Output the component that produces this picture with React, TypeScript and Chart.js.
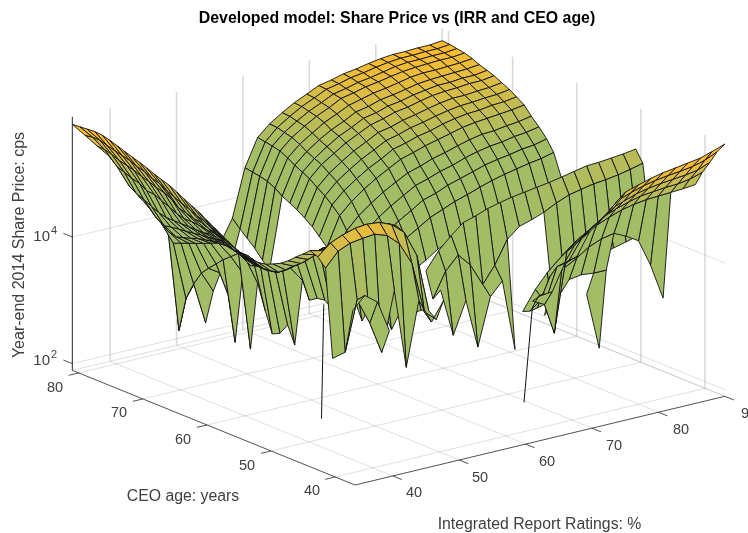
import React, { useEffect, useRef } from "react";
import { Chart, registerables } from "chart.js";

Chart.register(...registerables);

const N = null;
const gap = (n: number) => Array(n).fill(null);

const irrValues = [34.3,36.2,38,39.9,41.7,43.6,45.4,47.3,49.2,51,52.9,54.7,56.6,58.4,60.3,62.2,64,65.9,67.7,69.6,71.4,73.3,75.1,77,78.9,80.7,82.6,84.4,86.3,88.1,90];
const ageValues = [81,79.8,78.7,77.5,76.3,75.2,74,72.9,71.7,70.5,69.4,68.2,67.1,65.9,64.7,63.6,62.4,61.3,60.1,58.9,57.8,56.6,55.5,54.3,53.1,52,50.8,49.7,48.5,47.3,46.2,45,43.9,42.7,41.5,40.4,39.2,38.1,36.9];

// log10(share price) x 100, one row per CEO age (oldest first), one column per IRR value
const logPriceRows: (number | null)[][] = [
[578,556,535,513,491,469,430,414,352,348,344,339,334,369,444,487,504,517,528,537,546,550,555,558,562,565,567,567,568,568,570],
[579,558,534,502,467,448,425,407,220,300,300,295,290,357,442,485,503,516,527,536,545,549,554,557,561,564,566,566,567,567,569],
[580,558,531,498,460,433,405,367,275,304,N,N,N,347,440,483,500,513,524,533,542,546,551,554,558,562,564,564,565,565,567],
[581,554,526,493,455,421,395,372,303,237,N,N,N,336,437,480,497,510,521,530,540,544,549,552,556,559,561,562,563,563,565],
[580,551,523,490,449,414,392,377,325,292,N,N,N,322,431,474,491,504,516,525,534,539,544,547,551,555,557,557,558,559,561],
[577,548,520,483,444,416,395,381,337,325,N,N,N,311,423,467,484,498,509,518,528,532,538,541,545,549,551,552,553,554,556],
[573,545,515,482,441,418,399,386,349,296,N,N,N,N,417,461,478,492,504,513,523,527,533,536,541,544,547,547,549,549,552],
[569,540,512,477,441,419,403,391,360,225,N,N,N,N,411,455,473,486,498,508,517,522,528,531,536,540,542,543,545,545,548],
[565,537,507,472,441,421,406,396,370,339,N,N,N,N,403,446,464,478,490,500,510,514,520,524,529,533,536,536,538,539,542],
[561,531,504,466,441,423,409,397,380,224,N,N,N,N,394,438,456,470,482,492,502,507,513,517,522,526,529,530,532,533,536],
[557,528,499,463,441,424,412,397,376,333,N,N,N,N,383,428,446,460,472,482,493,498,504,508,514,518,521,522,525,526,529],
[552,521,489,463,441,426,415,394,379,294,N,N,N,N,371,416,434,449,461,472,482,488,494,499,504,509,512,514,516,518,521],
[548,516,486,462,443,427,408,395,375,262,N,N,N,N,352,397,416,431,444,455,465,471,478,483,489,494,498,499,502,504,508],
[544,511,482,460,441,426,402,391,372,268,N,N,N,N,334,380,399,414,427,439,450,456,463,468,475,480,484,486,490,492,496],
[538,506,481,459,440,418,394,388,374,286,N,N,N,N,314,359,379,395,408,420,432,438,446,452,458,464,468,471,475,477,482],
[532,501,476,456,433,413,399,387,380,259,N,N,N,N,300,335,355,371,385,397,409,417,425,431,438,444,449,453,457,460,465],
[526,497,473,454,429,410,397,388,390,366,N,N,N,N,300,310,320,330,340,351,364,372,381,389,397,404,410,414,420,424,430],
[521,492,470,446,427,412,400,398,400,339,...gap(21)],
[513,486,465,441,424,413,404,407,410,347,...gap(21)],
[506,481,457,438,424,416,415,420,423,349,...gap(21)],
[498,470,454,438,427,421,426,429,434,340,...gap(21)],
[491,470,453,440,432,431,434,442,442,360,...gap(21)],
[484,467,453,443,439,442,445,452,452,335,...gap(21)],
[480,464,456,448,448,451,457,463,464,370,...gap(21)],
[479,460,461,456,457,462,469,475,472,340,...gap(21)],
[479,461,465,465,469,473,478,486,483,365,...gap(21)],
[481,464,472,475,480,485,488,497,493,335,N,N,N,410,437,456,472,478,485,490,494,497,500,503,507,511,515,516,518,520,523],
[486,472,483,485,492,494,497,507,500,370,N,N,N,370,409,430,410,374,400,436,452,458,465,475,483,487,491,493,496,500,505],
[492,483,492,497,500,503,507,517,509,345,N,N,N,389,313,363,285,360,380,267,N,N,350,360,370,380,385,390,395,400,405],
[501,492,502,507,510,513,516,524,515,375,...gap(21)],
[511,503,513,516,519,524,526,530,520,350,...gap(21)],
[521,515,522,529,530,535,537,536,520,385,...gap(13),350,260,...gap(6)],
[531,526,534,540,540,545,545,537,502,395,...gap(9),340,360,387,390,388,388,...gap(6)],
[526,543,551,557,559,557,549,532,491,399,...gap(8),370,395,415,426,439,447,451,442,430,387,330,N,N],
[513,535,543,546,548,541,524,488,406,390,...gap(6),370,400,422,440,456,468,478,486,493,497,500,501,502,503,505],
[375,380,458,417,366,459,333,434,395,424,370,...gap(5),375,390,331,455,471,483,496,504,510,515,517,519,520,523,529],
[N,451,470,455,405,...gap(11),385,430,440,470,486,498,514,521,528,532,535,537,539,542,550],
[...gap(15),405,395,450,455,485,500,514,532,539,545,549,552,554,557,562,571],
[...gap(15),418,420,460,466,500,515,529,550,556,562,566,569,572,575,581,588],
];

// Very thin hanging edges: [IRR, CEO age, log10 price x 100]
const thinEdgeA = [[35,42.5,450],[35,42.85,268]];
const thinEdgeB = [[62.9,36.9,421],[61.9,36.9,418],[61,36.9,402],[59.75,36.9,256]];

const irrTicks = [40,50,60,70,80,90];
const ageTicks = [40,50,60,70,80];
const zTicks = [200,400];
const irrMin = 34.3, irrMax = 90, ageMin = 36.9, ageMax = 81, zFloor = 189.4, zTop = 590;

const project = (irr: number, age: number, z: number) => ({
  x: 355 + 6.64 * (irr - irrMin) - 6.41 * (age - ageMin),
  y: 485 - 1.592 * (irr - irrMin) - 2.6 * (age - ageMin) - (z - zFloor) * 0.633,
});

const faceColor = (z: number) => {
  const t = Math.pow(Math.min(1, Math.max(0, (z - 470) / 100)), 1.6);
  const mix = (a: number, b: number) => Math.round(a + (b - a) * t);
  return `rgb(${mix(163, 255)},${mix(188, 188)},${mix(102, 45)})`;
};

const line = (pts: { x: number; y: number }[], color: string, width: number) => ({
  type: "scatter" as const,
  data: pts,
  showLine: true,
  borderColor: color,
  borderWidth: width,
  pointRadius: 0,
  fill: false,
  clip: false as const,
  tension: 0,
});

function buildDatasets() {
  const out: any[] = [];
  // chart.js paints the first dataset last, so nearest items come first
  out.push(line(thinEdgeA.map((p) => project(p[0], p[1], p[2])), "#111", 1));
  out.push(line(thinEdgeB.map((p) => project(p[0], p[1], p[2])), "#111", 1));
  const axisColor = "#262626";
  out.push(line([project(irrMin, ageMax, zFloor), project(irrMin, ageMax, zTop)], axisColor, 1));
  out.push(line([project(irrMin, ageMax, zFloor), project(irrMin, ageMin, zFloor), project(irrMax, ageMin, zFloor)], axisColor, 0.8));
  for (const a of ageTicks) out.push(line([project(irrMin, a, zFloor), project(irrMin - 1.5, a, zFloor)], axisColor, 0.8));
  for (const r of irrTicks) out.push(line([project(r, ageMin, zFloor), project(r, ageMin - 1.4, zFloor)], axisColor, 0.8));
  for (const z of zTicks) out.push(line([project(irrMin, ageMax, z), project(irrMin, ageMax + 1.4, z)], axisColor, 0.8));

  for (let r = logPriceRows.length - 2; r >= 0; r--) {
    for (let c = 0; c < irrValues.length - 1; c++) {
      const a = logPriceRows[r + 1][c], b = logPriceRows[r + 1][c + 1], d = logPriceRows[r][c + 1], e = logPriceRows[r][c];
      if (a == null || b == null || d == null || e == null) continue;
      const near = ageValues[r + 1], far = ageValues[r];
      const p1 = project(irrValues[c], near, a);
      out.push({
        ...line([p1, project(irrValues[c + 1], near, b), project(irrValues[c + 1], far, d), project(irrValues[c], far, e), p1], "#101010", 0.9),
        fill: "shape",
        backgroundColor: faceColor((a + b + d + e) / 4),
      });
    }
  }
  // walls and floor grid
  const grid = "rgba(150,150,150,0.3)";
  const wall = "rgba(170,170,170,0.42)";
  for (const r of irrTicks) {
    out.push(line([project(r, ageMin, zFloor), project(r, ageMax, zFloor)], grid, 1));
    if (r < irrMax) out.push(line([project(r, ageMax, zFloor), project(r, ageMax, zTop)], wall, 1.6));
  }
  for (const a of ageTicks) {
    out.push(line([project(irrMin, a, zFloor), project(irrMax, a, zFloor)], grid, 1));
    out.push(line([project(irrMax, a, zFloor), project(irrMax, a, zTop)], wall, 1.6));
  }
  for (const z of zTicks) out.push(line([project(irrMin, ageMax, z), project(irrMax, ageMax, z), project(irrMax, ageMin, z)], grid, 1));
  out.push(line([project(irrMin, ageMax, zFloor), project(irrMax, ageMax, zFloor), project(irrMax, ageMin, zFloor)], grid, 1));
  out.push(line([project(irrMax, ageMax, zFloor), project(irrMax, ageMax, zTop)], wall, 1.6));
  return out;
}

const titleText = "Developed model: Share Price vs (IRR and CEO age)";
const yLabel = "Year-end 2014 Share Price: cps";
const xLabel = "Integrated Report Ratings: %";
const ageLabel = "CEO age: years";
const ageTickPos = [[312,491],[247,466],[183,440],[119,413],[55,388]];
const irrTickPos = [[414,493],[480,478],[547,462],[614,446],[681,430],[749,414]];

const labelPlugin = {
  id: "labels",
  afterDraw(chart: any) {
    const ctx = chart.ctx as CanvasRenderingContext2D;
    ctx.save();
    const sans = '"Liberation Sans", Arial, sans-serif';
    ctx.textAlign = "center";
    ctx.textBaseline = "middle";
    ctx.fillStyle = "#000";
    ctx.font = `bold 15.9px ${sans}`;
    ctx.fillText(titleText, 397, 19);
    ctx.fillStyle = "#404040";
    ctx.font = `14.5px ${sans}`;
    ageTicks.forEach((t, i) => ctx.fillText(String(t), ageTickPos[i][0], ageTickPos[i][1]));
    irrTicks.forEach((t, i) => ctx.fillText(String(t), irrTickPos[i][0], irrTickPos[i][1]));
    ctx.font = `15.8px ${sans}`;
    ctx.fillText(ageLabel, 183, 497);
    ctx.fillText(xLabel, 539.5, 525);
    ctx.font = `15px ${sans}`;
    ctx.textAlign = "right";
    ctx.fillText("10", 50, 237);
    ctx.fillText("10", 50, 361);
    ctx.font = `11px ${sans}`;
    ctx.textAlign = "left";
    ctx.fillText("4", 51, 231);
    ctx.fillText("2", 51, 355);
    ctx.font = `16px ${sans}`;
    ctx.textAlign = "center";
    ctx.translate(20, 245);
    ctx.rotate(-Math.PI / 2);
    ctx.fillText(yLabel, 0, 0);
    ctx.restore();
  },
};

export default function App() {
  const ref = useRef<HTMLCanvasElement>(null);
  useEffect(() => {
    const chart = new Chart(ref.current!, {
      type: "scatter",
      data: { datasets: buildDatasets() },
      options: {
        responsive: false,
        animation: false,
        events: [],
        layout: { padding: 0 },
        plugins: { legend: { display: false }, tooltip: { enabled: false }, title: { display: false } },
        scales: {
          x: { type: "linear", min: 0, max: 748, display: false },
          y: { type: "linear", min: 0, max: 533, reverse: true, display: false },
        },
      },
      plugins: [labelPlugin],
    });
    return () => chart.destroy();
  }, []);
  return (
    <div style={{ position: "absolute", left: 0, top: 0, width: 748, height: 533, background: "#fff" }}>
      <canvas ref={ref} width={748} height={533} style={{ display: "block" }} />
    </div>
  );
}
